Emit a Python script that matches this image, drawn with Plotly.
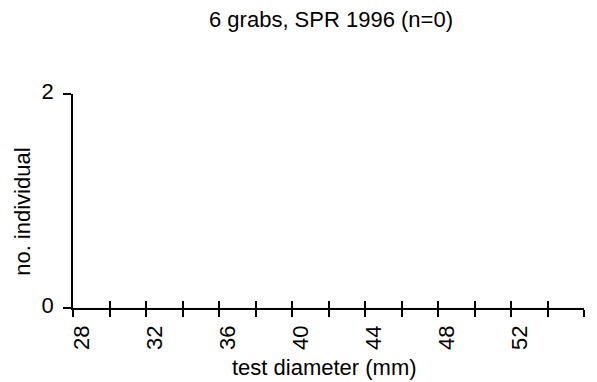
import plotly.graph_objects as go

# Data: size-frequency histogram, no individuals found (n=0)
bin_starts = [28, 30, 32, 34, 36, 38, 40, 42, 44, 46, 48, 50, 52, 54]
counts = [0, 0, 0, 0, 0, 0, 0, 0, 0, 0, 0, 0, 0, 0]
tick_values = [28, 30, 32, 34, 36, 38, 40, 42, 44, 46, 48, 50, 52, 54, 56]
tick_labels = ["28", "", "32", "", "36", "", "40", "", "44", "", "48", "", "52", "", ""]
y_ticks = [0, 2]
y_labels = ["0", "2"]

title_text = "6 grabs, SPR 1996 (n=0)"
x_title = "test diameter (mm)"
y_title = "no. individual"

FONT = "Liberation Sans, Arial, Helvetica, sans-serif"
FS = 22

fig = go.Figure()
fig.add_trace(go.Bar(x=bin_starts, y=counts, marker_color="black", width=2,
                     offset=0, showlegend=False, hoverinfo="skip"))
# invisible trace on the overlay axes so they render
fig.add_trace(go.Scatter(x=[bin_starts[0]], y=[0], xaxis="x2", yaxis="y2",
                         mode="markers", marker=dict(opacity=0),
                         showlegend=False, hoverinfo="skip"))

axis_common = dict(showgrid=False, zeroline=False, showline=True,
                   linecolor="black", linewidth=1.5, tickcolor="black",
                   tickwidth=1.5, automargin=False)

fig.update_layout(
    width=597, height=382,
    margin=dict(l=73, r=13, t=94, b=74),
    paper_bgcolor="white", plot_bgcolor="white",
    font=dict(family=FONT, size=FS, color="black"),
    xaxis=dict(range=[28, 56], tickmode="array", tickvals=tick_values,
               ticktext=tick_labels, ticks="outside", ticklen=7, tickangle=-90,
               ticklabelshift=9, ticklabelstandoff=0,
               tickfont=dict(family=FONT, size=FS), **axis_common),
    xaxis2=dict(range=[28, 56], overlaying="x", matches="x", side="bottom",
                tickmode="array", tickvals=tick_values, showticklabels=False,
                ticks="inside", ticklen=7, anchor="y", **axis_common),
    yaxis=dict(range=[0, 2], tickmode="array", tickvals=y_ticks,
               ticktext=y_labels, ticks="outside", ticklen=8,
               ticklabelstandoff=5, ticklabelshift=-3,
               tickfont=dict(family=FONT, size=FS), **axis_common),
    yaxis2=dict(range=[0, 2], overlaying="y", matches="y", side="left",
                tickmode="array", tickvals=[2], showticklabels=False,
                ticks="inside", ticklen=8, anchor="x", **axis_common),
    annotations=[
        dict(text=title_text, xref="paper", yref="paper", x=0.505, y=1.346,
             xanchor="center", yanchor="middle", showarrow=False,
             font=dict(family=FONT, size=FS)),
        dict(text=x_title, xref="paper", yref="paper", x=0.493, y=-0.276,
             xanchor="center", yanchor="middle", showarrow=False,
             font=dict(family=FONT, size=FS)),
        dict(text=y_title, xref="paper", yref="paper", x=-0.098, y=0.449,
             xanchor="center", yanchor="middle", showarrow=False,
             textangle=-90, font=dict(family=FONT, size=FS)),
    ],
)

fig.write_html("out.html", config={"displayModeBar": False},
               post_script="document.body.style.margin='0';"
                           "document.body.style.padding='0';")
